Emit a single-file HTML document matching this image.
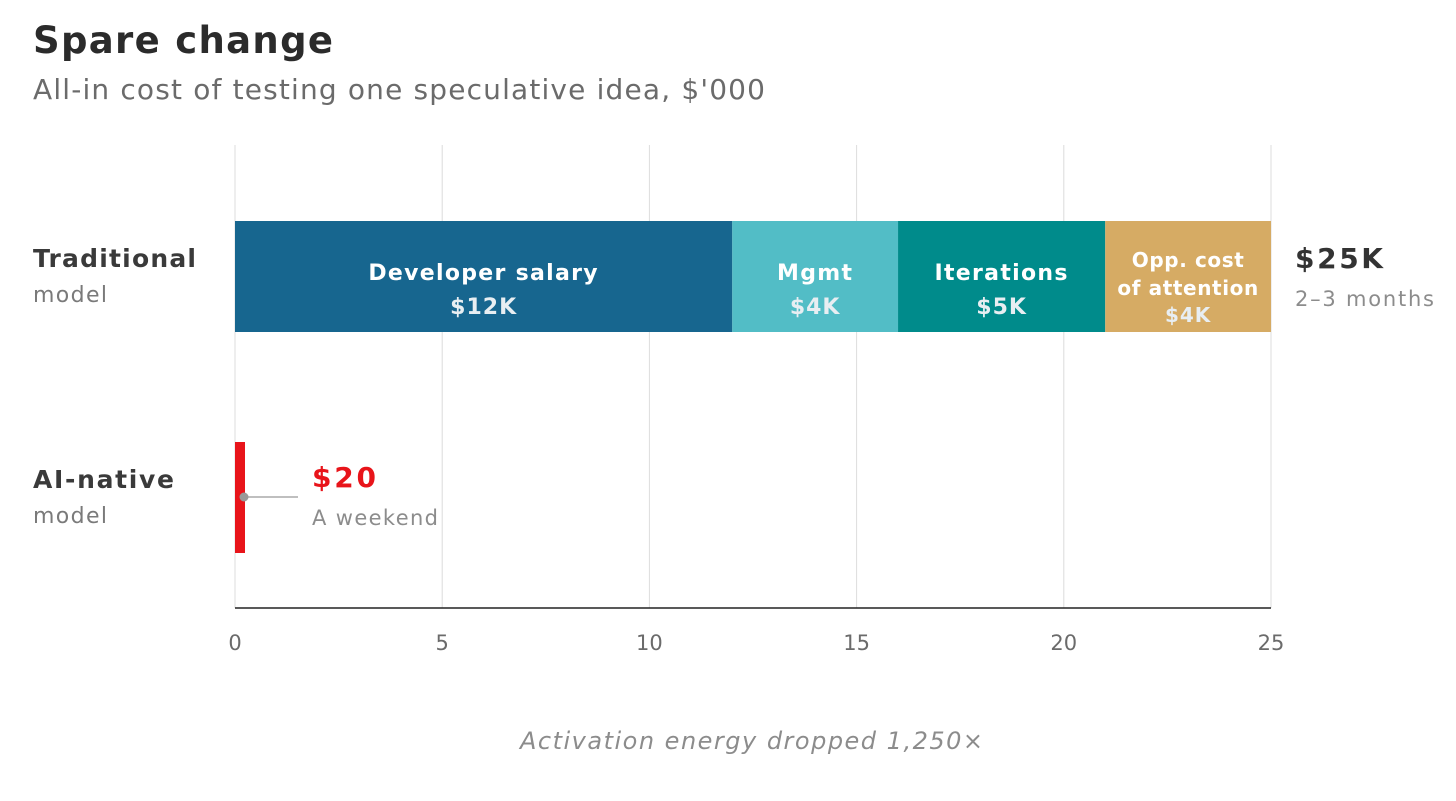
<!DOCTYPE html>
<html><head><meta charset="utf-8"><style>
body{margin:0;background:#fff;font-family:"DejaVu Sans","Liberation Sans",sans-serif;overflow:hidden;}
svg text{font-family:"DejaVu Sans","Liberation Sans",sans-serif;}
</style></head><body>
<svg id="c" width="1456" height="801" xmlns="http://www.w3.org/2000/svg" style="position:absolute;left:0;top:0">
<text x="33" y="53" font-size="37" font-weight="bold" fill="#2b2b2b" textLength="300" lengthAdjust="spacing">Spare change</text>
<text x="33" y="99" font-size="28" fill="#6b6b6b" textLength="732" lengthAdjust="spacing">All-in cost of testing one speculative idea, $'000</text>
<g id="grid"></g>
<g id="bars"></g>
<text x="33" y="267" font-size="25" font-weight="bold" fill="#3a3a3a" textLength="163" lengthAdjust="spacing">Traditional</text>
<text x="33" y="302" font-size="22" fill="#7a7a7a" textLength="74" lengthAdjust="spacing">model</text>
<text x="33" y="488" font-size="25" font-weight="bold" fill="#3a3a3a" textLength="141" lengthAdjust="spacing">AI-native</text>
<text x="33" y="523" font-size="22" fill="#7a7a7a" textLength="74" lengthAdjust="spacing">model</text>
<text x="1295" y="268" font-size="28" font-weight="bold" fill="#333" textLength="88" lengthAdjust="spacing">$25K</text>
<text x="1295" y="306" font-size="21" fill="#8c8c8c" textLength="139" lengthAdjust="spacing">2–3 months</text>
<text x="312" y="487" font-size="28" font-weight="bold" fill="#e8141a" textLength="64" lengthAdjust="spacing">$20</text>
<text x="312" y="525" font-size="21" fill="#8c8c8c" textLength="126" lengthAdjust="spacing">A weekend</text>
<text x="520" y="749" font-size="24" font-style="italic" fill="#8c8c8c" textLength="463" lengthAdjust="spacing">Activation energy dropped 1,250×</text>
</svg>
<script>
const ticks=[0,5,10,15,20,25];
const segLabels=["Developer salary","Mgmt","Iterations","Opp. cost|of attention"];
const segValues=[12,4,5,4];
const segColors=["#17668f","#52bdc6","#008b8b","#d6ab64"];
const aiValue=0.02;
const x0=235,x1=1271,vmax=25;
const X=v=>x0+(x1-x0)*v/vmax;
const ns="http://www.w3.org/2000/svg";
function mk(t,a,p){const e=document.createElementNS(ns,t);for(const k in a)e.setAttribute(k,a[k]);p.appendChild(e);return e;}
const g=document.getElementById('grid'),b=document.getElementById('bars');
ticks.forEach(t=>{
 const l=mk('line',{x1:X(t),x2:X(t),y1:145,y2:608,stroke:'#dcdcdc','stroke-width':1},g);
 
 
 const tx=mk('text',{x:X(t),y:650,'font-size':21,fill:'#6b6b6b','text-anchor':'middle'},g);
 tx.textContent=t;
 
 
});
const ax=mk('line',{x1:x0,x2:x1,y1:608,y2:608,stroke:'#222','stroke-width':1.5},g);


let cum=0;
segValues.forEach((v,i)=>{
 const r=mk('rect',{x:X(cum),y:221,width:X(cum+v)-X(cum),height:111,fill:segColors[i]},b);
 
 
 const cx=(X(cum)+X(cum+v))/2;
 const lines=segLabels[i].split('|');
 const small=lines.length>1;
 const fs=small?20:22;
 let y=small?267:280;
 lines.forEach(s=>{const t=mk('text',{x:cx,y:y,'font-size':fs,'font-weight':'bold',fill:'#fff','text-anchor':'middle','letter-spacing':small?0.6:1.3},b);t.textContent=s;y+=28;});
 const vt=mk('text',{x:cx,y:small?322:314,'font-size':fs,'font-weight':'bold',fill:'#e8eef2','text-anchor':'middle','letter-spacing':1},b);
 vt.textContent='$'+v+'K';
 
 
 cum+=v;
});
const w=Math.max(10,X(aiValue)-x0);
const ai=mk('rect',{x:x0,y:442,width:w,height:111,fill:'#e8141a'},b);


const cl=mk('line',{x1:244,x2:298,y1:497,y2:497,stroke:'#aaa','stroke-width':1.5},b);


const dot=mk('circle',{cx:244,cy:497,r:4.5,fill:'#999'},b);


</script>
</body></html>
